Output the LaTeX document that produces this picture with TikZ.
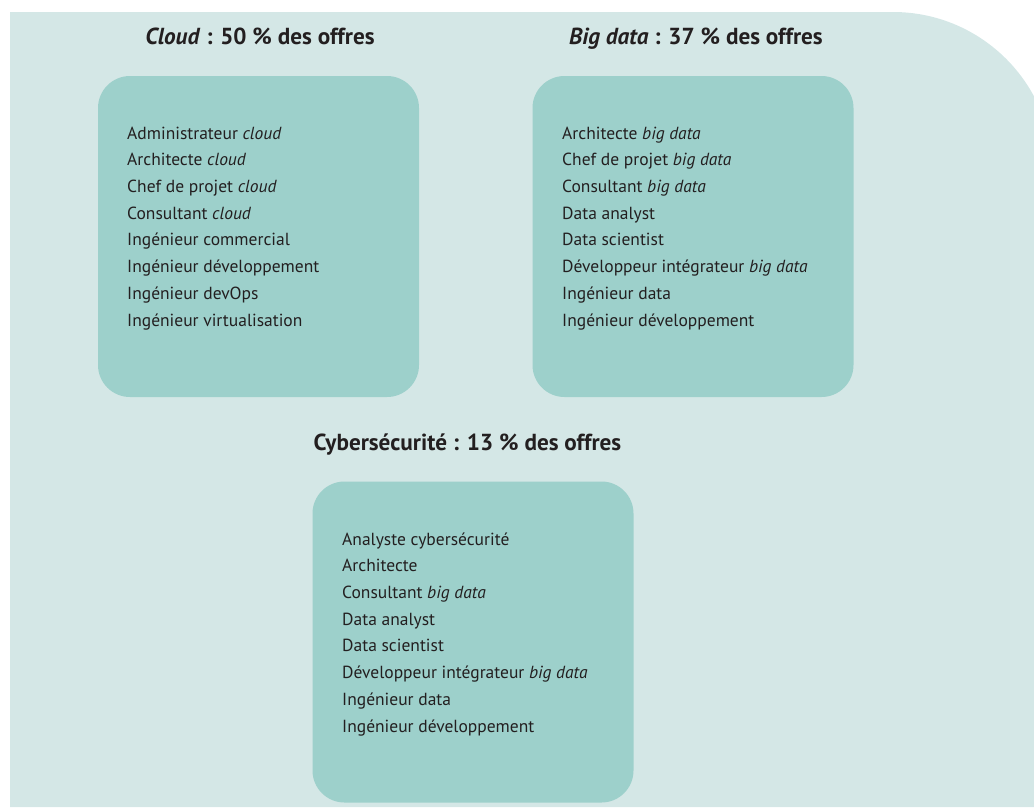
\documentclass[tikz,border=0pt]{standalone}
\usepackage{fontspec}
\setmainfont{PT Sans}
\definecolor{panel}{HTML}{D4E7E6}
\definecolor{boxc}{HTML}{9DD0CB}
\definecolor{ink}{HTML}{231F20}
\tikzset{
  listbox/.style={fill=boxc, draw=none, rounded corners=32pt, minimum width=321pt, minimum height=321pt, inner sep=0pt},
  listtext/.style={anchor=base west, align=left, inner sep=0pt, text=ink, font=\fontsize{17.5}{26.7}\selectfont},
  titletext/.style={anchor=base, inner sep=0pt, text=ink, font=\fontsize{23.2}{26}\selectfont\bfseries}
}
\begin{document}
\begin{tikzpicture}[x=1pt,y=-1pt]
\useasboundingbox (0,0) rectangle (1034,807);
\begin{scope}
\clip (0,0) rectangle (1034,807);
\fill[panel] (10,12) -- (893,12) arc[start angle=-90,end angle=0,radius=160] -- (1053,807) -- (10,807) -- cycle;
\end{scope}
% boxes
\node[listbox] (b1) at (258.5,236.5) {};
\node[listbox] (b2) at (693,236.5) {};
\node[listbox] (b3) at (473,642) {};
% titles
\node[titletext] (t1) at (260,44) {\textit{Cloud} : 50 \% des offres};
\node[titletext] (t2) at (696,44) {\textit{Big data} : 37 \% des offres};
\node[titletext] (t3) at (467.5,450) {Cybersécurité : 13 \% des offres};
% lists (base anchor = baseline of the last line)
\node[listtext] (l1) at (127,326) {Administrateur \textit{cloud}\\Architecte \textit{cloud}\\Chef de projet \textit{cloud}\\Consultant \textit{cloud}\\Ingénieur commercial\\Ingénieur développement\\Ingénieur devOps\\Ingénieur virtualisation};
\node[listtext] (l2) at (562,326) {Architecte \textit{big data}\\Chef de projet \textit{big data}\\Consultant \textit{big data}\\Data analyst\\Data scientist\\Développeur intégrateur \textit{big data}\\Ingénieur data\\Ingénieur développement};
\node[listtext] (l3) at (342,732) {Analyste cybersécurité\\Architecte\\Consultant \textit{big data}\\Data analyst\\Data scientist\\Développeur intégrateur \textit{big data}\\Ingénieur data\\Ingénieur développement};
\end{tikzpicture}
\end{document}
